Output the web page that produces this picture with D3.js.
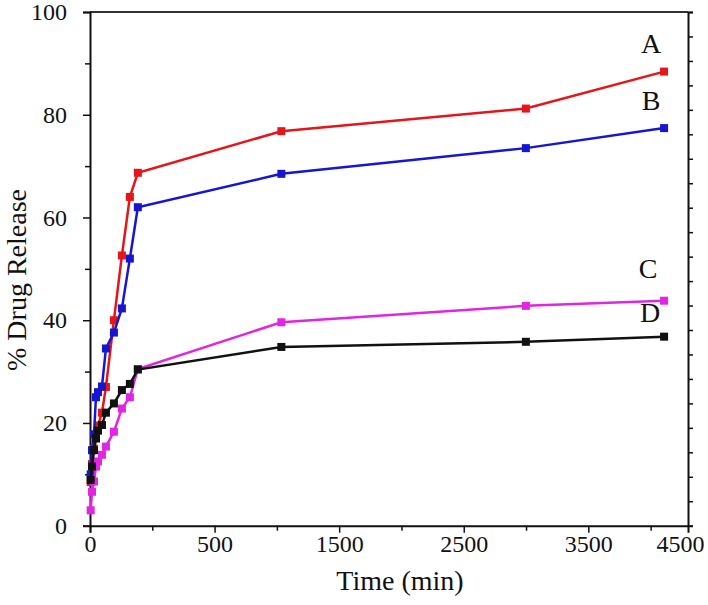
<!DOCTYPE html>
<html><head><meta charset="utf-8">
<script src="https://cdn.jsdelivr.net/npm/d3@7"></script>
<style>body{margin:0;background:#fff}svg{display:block}</style>
</head><body>
<script>
// ---- data ----
const times = [5, 15, 30, 45, 60, 90, 120, 180, 240, 300, 360, 1440, 3280, 4320];
const seriesA = [8.5, 12, 15, 17, 19.5, 22, 27, 40, 52.6, 64.0, 68.7, 76.8, 81.2, 88.4];
const seriesB = [10, 14.7, 17.8, 25, 26, 27.1, 34.5, 37.6, 42.3, 52.0, 62.0, 68.5, 73.5, 77.4];
const seriesC = [3, 6.6, 8.6, 11.5, 12.5, 13.8, 15.4, 18.3, 22.8, 25.0, 30.5, 39.6, 42.8, 43.8];
const seriesD = [8.9, 11.5, 14.7, 17, 18.5, 19.6, 22, 23.8, 26.4, 27.6, 30.4, 34.8, 35.8, 36.8];
const seriesNames = ["A", "B", "C", "D"];
const seriesColors = ["#e3161c", "#1616d0", "#e026e0", "#111111"];
const xTickValues = [0, 937.5, 1875, 2812.5, 3750, 4440];
const xTickLabels = ["0", "500", "1500", "2500", "3500", "4500"];
const xMinorTicks = [468.75, 1406.25, 2343.75, 3281.25, 4218.75];
const yTickValues = [0, 20, 40, 60, 80, 100];
const yMinorTicks = [10, 30, 50, 70, 90];
const xTitle = "Time (min)";
const yTitle = "% Drug Release";

const W = 708, H = 605;
const svg = d3.select("body").append("svg").attr("width", W).attr("height", H);
const x = d3.scaleLinear().domain([0, 4500]).range([90, 688]);
const y = d3.scaleLinear().domain([0, 100]).range([525.7, 12]);
const font = "'Liberation Serif','Times New Roman',Times,serif";

// frame top
svg.append("line").attr("x1", x(0)).attr("x2", x(4500)).attr("y1", y(100)).attr("y2", y(100))
  .attr("stroke", "#333").attr("stroke-width", 2);

// right axis with 21 divisions, ticks outward
const yR = d3.scaleLinear().domain([0, 21]).range([525.7, 12]);
const gR = svg.append("g").attr("transform", `translate(${x(4500)},0)`)
  .call(d3.axisRight(yR).tickValues(d3.range(0, 22)).tickSize(5).tickFormat(""));
gR.select(".domain").attr("stroke", "#111").attr("stroke-width", 2);
gR.selectAll(".tick line").attr("stroke", "#111").attr("stroke-width", 1.5);

// left axis
const gL = svg.append("g").attr("transform", `translate(${x(0)},0)`)
  .call(d3.axisLeft(y).tickValues(yTickValues).tickSize(7).tickPadding(16).tickFormat(d3.format("d")));
gL.select(".domain").attr("stroke", "#111").attr("stroke-width", 2);
gL.selectAll(".tick line").attr("stroke", "#111").attr("stroke-width", 1.5);
gL.selectAll(".tick text").attr("font-family", font).attr("font-size", 24).attr("fill", "#111");
const gLm = svg.append("g").attr("transform", `translate(${x(0)},0)`)
  .call(d3.axisLeft(y).tickValues(yMinorTicks).tickSize(5).tickFormat(""));
gLm.select(".domain").remove();
gLm.selectAll(".tick line").attr("stroke", "#111").attr("stroke-width", 1.5);

// bottom axis
const gB = svg.append("g").attr("transform", `translate(0,${y(0)})`)
  .call(d3.axisBottom(x).tickValues(xTickValues).tickSize(7).tickPadding(2)
    .tickFormat((d, i) => xTickLabels[i]));
gB.select(".domain").attr("stroke", "#111").attr("stroke-width", 2);
gB.selectAll(".tick line").attr("stroke", "#111").attr("stroke-width", 1.5);
gB.selectAll(".tick").filter((d, i) => i === xTickValues.length - 1).select("line").remove();
gB.selectAll(".tick text").attr("font-family", font).attr("font-size", 24).attr("fill", "#111");
const gBm = svg.append("g").attr("transform", `translate(0,${y(0)})`)
  .call(d3.axisBottom(x).tickValues(xMinorTicks).tickSize(5).tickFormat(""));
gBm.select(".domain").remove();
gBm.selectAll(".tick line").attr("stroke", "#111").attr("stroke-width", 1.5);

// titles
svg.append("text").attr("x", 400).attr("y", 590).attr("text-anchor", "middle")
  .attr("font-family", font).attr("font-size", 28).attr("fill", "#111").text(xTitle);
svg.append("text").attr("transform", "translate(26,280) rotate(-90)").attr("text-anchor", "middle")
  .attr("font-family", font).attr("font-size", 28).attr("fill", "#111").text(yTitle);

// series
const allSeries = [seriesA, seriesB, seriesC, seriesD];
const line = d3.line().x(d => x(d[0])).y(d => y(d[1]));
const labelPos = [[651, 53], [651, 110], [648, 278], [650, 322]];
allSeries.forEach((vals, si) => {
  const pts = times.map((t, i) => [t, vals[i]]);
  const g = svg.append("g");
  g.append("path").datum(pts).attr("d", line).attr("fill", "none")
    .attr("stroke", seriesColors[si]).attr("stroke-width", 2.5);
  g.selectAll("rect").data(pts).join("rect")
    .attr("x", d => x(d[0]) - 4).attr("y", d => y(d[1]) - 4)
    .attr("width", 8).attr("height", 8).attr("fill", seriesColors[si]);
  svg.append("text").attr("x", labelPos[si][0]).attr("y", labelPos[si][1]).attr("text-anchor", "middle")
    .attr("font-family", font).attr("font-size", 28).attr("fill", "#111").text(seriesNames[si]);
});
</script>
</body></html>
